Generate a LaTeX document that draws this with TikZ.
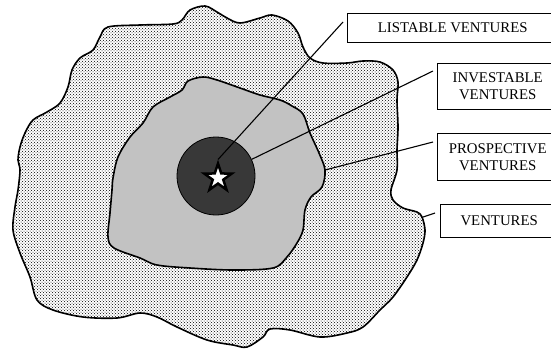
\documentclass[tikz,border=0pt]{standalone}
\usepackage{fontspec}
\setmainfont{Liberation Serif}
\usetikzlibrary{shapes.geometric,patterns,calc}
\tikzset{
  blobline/.style={draw=black, line width=1.6pt, line join=round},
  leader/.style={draw=black, line width=1.1pt},
  labelbox/.style={draw=black, line width=1.4pt, fill=white, anchor=north west,
    align=center, inner sep=0pt, font=\fontsize{14.8}{17}\selectfont},
}
\begin{document}
\begin{tikzpicture}[x=1pt,y=-1pt]
\useasboundingbox (0,0) rectangle (551,351);
% outer blob: ventures
\path[fill=white] plot[smooth cycle, tension=0.55] coordinates {
 (205,6) (217,12) (227,18) (240,23) (260,18) (272,15) (288,21) (298,33) (303,47) (310,58)
 (323,63) (347,63) (363,61) (380,62) (393,70) (398,82) (397,100) (398,127) (397,150)
 (397,170) (391,190) (393,200) (403,208) (417,212) (422,217) (425,230) (423,243)
 (417,260) (407,277) (393,297) (380,310) (363,327) (347,333) (320,337) (290,330)
 (270,329) (263,337) (247,347) (233,345) (207,340) (177,327) (157,317) (140,313)
 (117,318) (83,317) (53,310) (37,300) (30,277) (20,253) (13,230) (15,207) (18,190)
 (20,170) (18,160) (20,147) (25,133) (33,120) (47,112) (60,103) (68,87) (72,70)
 (80,58) (93,50) (100,37) (108,27) (140,25) (173,24) (182,20) (190,10)};
\path[pattern=crosshatch dots, pattern color=black] plot[smooth cycle, tension=0.55] coordinates {
 (205,6) (217,12) (227,18) (240,23) (260,18) (272,15) (288,21) (298,33) (303,47) (310,58)
 (323,63) (347,63) (363,61) (380,62) (393,70) (398,82) (397,100) (398,127) (397,150)
 (397,170) (391,190) (393,200) (403,208) (417,212) (422,217) (425,230) (423,243)
 (417,260) (407,277) (393,297) (380,310) (363,327) (347,333) (320,337) (290,330)
 (270,329) (263,337) (247,347) (233,345) (207,340) (177,327) (157,317) (140,313)
 (117,318) (83,317) (53,310) (37,300) (30,277) (20,253) (13,230) (15,207) (18,190)
 (20,170) (18,160) (20,147) (25,133) (33,120) (47,112) (60,103) (68,87) (72,70)
 (80,58) (93,50) (100,37) (108,27) (140,25) (173,24) (182,20) (190,10)};
\path[blobline] plot[smooth cycle, tension=0.55] coordinates {
 (205,6) (217,12) (227,18) (240,23) (260,18) (272,15) (288,21) (298,33) (303,47) (310,58)
 (323,63) (347,63) (363,61) (380,62) (393,70) (398,82) (397,100) (398,127) (397,150)
 (397,170) (391,190) (393,200) (403,208) (417,212) (422,217) (425,230) (423,243)
 (417,260) (407,277) (393,297) (380,310) (363,327) (347,333) (320,337) (290,330)
 (270,329) (263,337) (247,347) (233,345) (207,340) (177,327) (157,317) (140,313)
 (117,318) (83,317) (53,310) (37,300) (30,277) (20,253) (13,230) (15,207) (18,190)
 (20,170) (18,160) (20,147) (25,133) (33,120) (47,112) (60,103) (68,87) (72,70)
 (80,58) (93,50) (100,37) (108,27) (140,25) (173,24) (182,20) (190,10)};
% inner blob: prospective ventures
\path[blobline, fill=black!24] plot[smooth cycle, tension=0.55] coordinates {
 (203,77) (217,80) (240,88) (260,95) (280,100) (292,106) (303,114) (310,133) (319,153)
 (325,170) (322,187) (311,197) (305,210) (303,230) (297,243) (287,257) (273,268)
 (233,270) (190,268) (157,265) (140,258) (114,248) (108,237) (110,213) (112,190)
 (113,178) (118,157) (130,137) (143,123) (153,107) (170,97) (182,90) (188,81)};
\coordinate (pb) at (325,170);
\coordinate (vb) at (423,217);
% investable core and star
\node[circle, draw=black, line width=0.8pt, fill=black!78, minimum size=78pt, inner sep=0pt] (circ) at (216,176) {};
\node[star, star points=5, star point ratio=2.6, draw=black, line width=2.5pt, fill=white,
      minimum size=29pt, inner sep=0pt] (st) at (218,178) {};
% label boxes
\node[labelbox, minimum width=210pt, minimum height=29pt] (lst) at (347,13) {LISTABLE VENTURES};
\node[labelbox, minimum width=120pt, minimum height=46pt] (inv) at (437,63) {INVESTABLE\\VENTURES};
\node[labelbox, minimum width=120pt, minimum height=47pt] (pro) at (437,133) {PROSPECTIVE\\VENTURES};
\node[labelbox, minimum width=117pt, minimum height=33pt] (ven) at (440,204) {VENTURES};
% leaders
\draw[leader] (st.outer point 1) -- ($(lst.north west)+(-4,9)$);
\draw[leader] (circ.25) -- ($(inv.north west)+(-4,8)$);
\draw[leader] (pb) -- ($(pro.north west)+(-4,9)$);
\draw[leader] (vb) -- ($(ven.north west)+(-5,9)$);
\end{tikzpicture}
\end{document}
